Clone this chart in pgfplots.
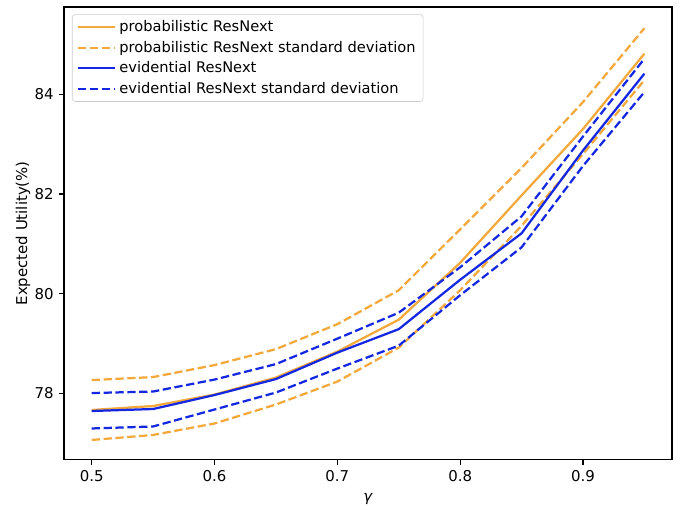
\documentclass[border=0pt]{standalone}
\usepackage{fontspec}
\setmainfont{DejaVu Sans}
\usepackage{pgfplots}
\pgfplotsset{compat=1.18}
\definecolor{orng}{RGB}{243,168,59}
\definecolor{blu}{RGB}{20,40,225}
\begin{document}
\begin{tikzpicture}
\begin{axis}[
  at={(0pt,0pt)}, anchor=south west,
  scale only axis, width=407pt, height=303pt,
  xmin=0.4775, xmax=0.9725, ymin=76.676, ymax=85.745,
  xtick={0.5,0.6,0.7,0.8,0.9}, ytick={78,80,82,84},
  xticklabel style={/pgf/number format/.cd,fixed,precision=1},
  /pgf/number format/assume math mode=true,
  tick align=outside, major tick length=3.5pt,
  tick style={black, line width=0.8pt},
  axis line style={line width=0.8pt},
  xtick pos=bottom, ytick pos=left,
  tick label style={font=\fontsize{10}{12}\selectfont},
  xlabel={\textit{γ}}, ylabel={Expected Utility(\%)},
  label style={font=\fontsize{10}{12}\selectfont},
  xlabel style={yshift=-1pt},
  ylabel style={yshift=-4pt},
  legend pos=north west,
  legend cell align=left,
  legend style={font=\fontsize{9.8}{12}\selectfont, draw=black!20, rounded corners=2pt, fill=white, fill opacity=0.8, text opacity=1, at={(0.013,0.984)}, anchor=north west, inner xsep=3pt, inner ysep=2pt, row sep=0.8pt},
  legend image code/.code={\path (0pt,0pt) -- (25pt,0pt);\draw[#1] (0pt,0pt) -- (21pt,0pt);},
  every axis plot/.append style={line width=1.5pt},
]
\addplot[orng, solid] coordinates {(0.5,77.67) (0.55,77.75) (0.6,77.98) (0.65,78.32) (0.7,78.84) (0.75,79.48) (0.8,80.62) (0.85,81.97) (0.9,83.30) (0.95,84.81)};
\addlegendentry{probabilistic ResNext}
\addplot[orng, dash pattern=on 5.55pt off 2.4pt] coordinates {(0.5,78.27) (0.55,78.33) (0.6,78.57) (0.65,78.89) (0.7,79.39) (0.75,80.07) (0.8,81.29) (0.85,82.52) (0.9,83.84) (0.95,85.32)};
\addlegendentry{probabilistic ResNext standard deviation}
\addplot[orng, dash pattern=on 5.55pt off 2.4pt, forget plot] coordinates {(0.5,77.07) (0.55,77.17) (0.6,77.40) (0.65,77.78) (0.7,78.24) (0.75,78.92) (0.8,80.07) (0.85,81.36) (0.9,82.80) (0.95,84.28)};
\addplot[blu, solid] coordinates {(0.5,77.65) (0.55,77.69) (0.6,77.97) (0.65,78.29) (0.7,78.82) (0.75,79.29) (0.8,80.28) (0.85,81.21) (0.9,82.87) (0.95,84.41)};
\addlegendentry{evidential ResNext}
\addplot[blu, dash pattern=on 5.55pt off 2.4pt] coordinates {(0.5,78.01) (0.55,78.04) (0.6,78.28) (0.65,78.59) (0.7,79.10) (0.75,79.62) (0.8,80.53) (0.85,81.55) (0.9,83.15) (0.95,84.71)};
\addlegendentry{evidential ResNext standard deviation}
\addplot[blu, dash pattern=on 5.55pt off 2.4pt, forget plot] coordinates {(0.5,77.30) (0.55,77.34) (0.6,77.68) (0.65,78.02) (0.7,78.50) (0.75,78.96) (0.8,79.97) (0.85,80.93) (0.9,82.56) (0.95,84.04)};
\end{axis}
\path[use as bounding box] (-42.9pt,-32.8pt) rectangle (417.7pt,307.7pt);
\end{tikzpicture}
\end{document}
